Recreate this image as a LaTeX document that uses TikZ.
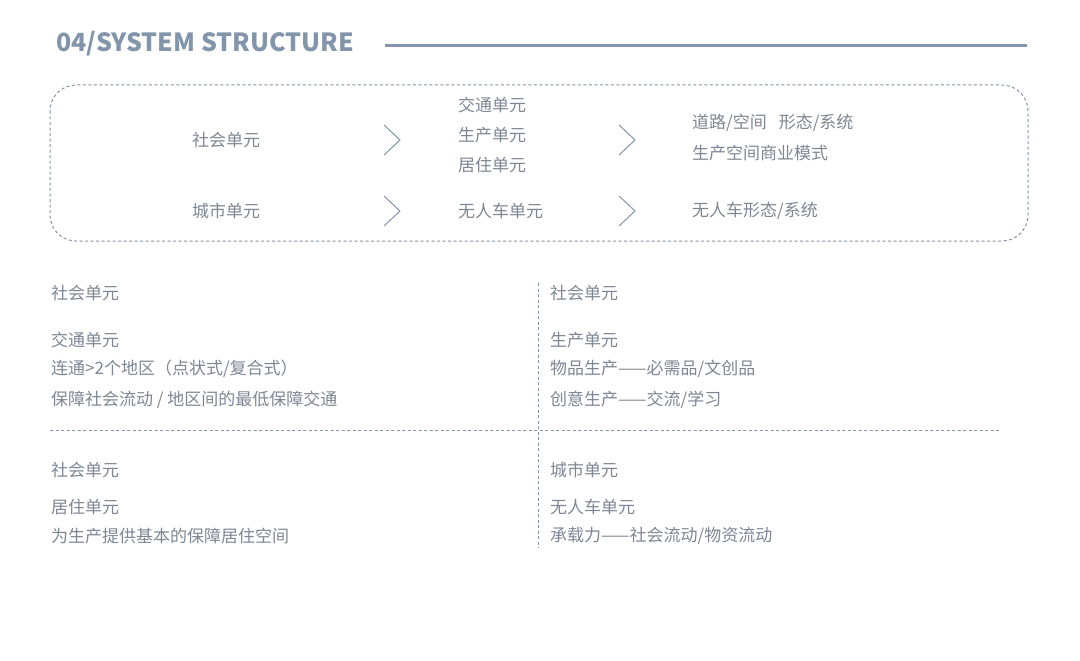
\documentclass[tikz,border=0pt]{standalone}
\usepackage{fontspec}
\newfontfamily\cjk{Noto Sans CJK SC}
\definecolor{tc}{HTML}{7E8794}
\definecolor{bc}{HTML}{8395AA}
\begin{document}
\begin{tikzpicture}[x=1pt,y=-1pt,
  txt/.style={font=\cjk\fontsize{17}{20}\selectfont,text=tc,anchor=west,inner sep=0},
  dsh/.style={draw=bc,line width=1pt,dash pattern=on 3pt off 2.5pt},
  chev/.style={draw=bc,line width=1pt}]
\useasboundingbox (0,0) rectangle (1080,661);
\fill[white] (0,0) rectangle (1080,661);
\node[anchor=west,inner sep=0,text=bc,font=\cjk\bfseries\fontsize{25}{28}\selectfont] (title) at (56,44) {04/SYSTEM STRUCTURE};
\coordinate (l1) at (385,46); \coordinate (l2) at (1027,46);
\draw[bc,line width=3pt] (l1) -- (l2);
\draw[dsh,rounded corners=26pt] (50,85) rectangle (1028,241);
\node[txt] (a1) at (192,140) {社会单元};
\node[txt] (a2) at (192,211) {城市单元};
\node[txt] (b1) at (458,105) {交通单元};
\node[txt] (b2) at (458,135) {生产单元};
\node[txt] (b3) at (458,165) {居住单元};
\node[txt] (b4) at (458,211) {无人车单元};
\node[txt] (c1) at (692,123) {道路/空间\hspace{0.7em}形态/系统};
\node[txt] (c2) at (692,153) {生产空间商业模式};
\node[txt] (c3) at (692,211) {无人车形态/系统};
\foreach \x/\y in {384/140,384/211,619/140,619/211}
  \draw[chev] (\x,\y-15) -- (\x+16,\y) -- (\x,\y+15);
\draw[dsh] (538,283) -- (538,548);
\draw[dsh] (50,430) -- (1000,430);
\node[txt] at (51,293) {社会单元};
\node[txt] at (51,340) {交通单元};
\node[txt] at (51,369) {连通>2个地区（点状式/复合式）};
\node[txt] at (51,400) {保障社会流动 / 地区间的最低保障交通};
\node[txt] at (51,470) {社会单元};
\node[txt] at (51,507) {居住单元};
\node[txt] at (51,536) {为生产提供基本的保障居住空间};
\node[txt] at (550,293) {社会单元};
\node[txt] at (550,340) {生产单元};
\node[txt] at (550,369) {物品生产——必需品/文创品};
\node[txt] at (550,400) {创意生产——交流/学习};
\node[txt] at (550,470) {城市单元};
\node[txt] at (550,507) {无人车单元};
\node[txt] at (550,536) {承载力——社会流动/物资流动};
\end{tikzpicture}
\end{document}
